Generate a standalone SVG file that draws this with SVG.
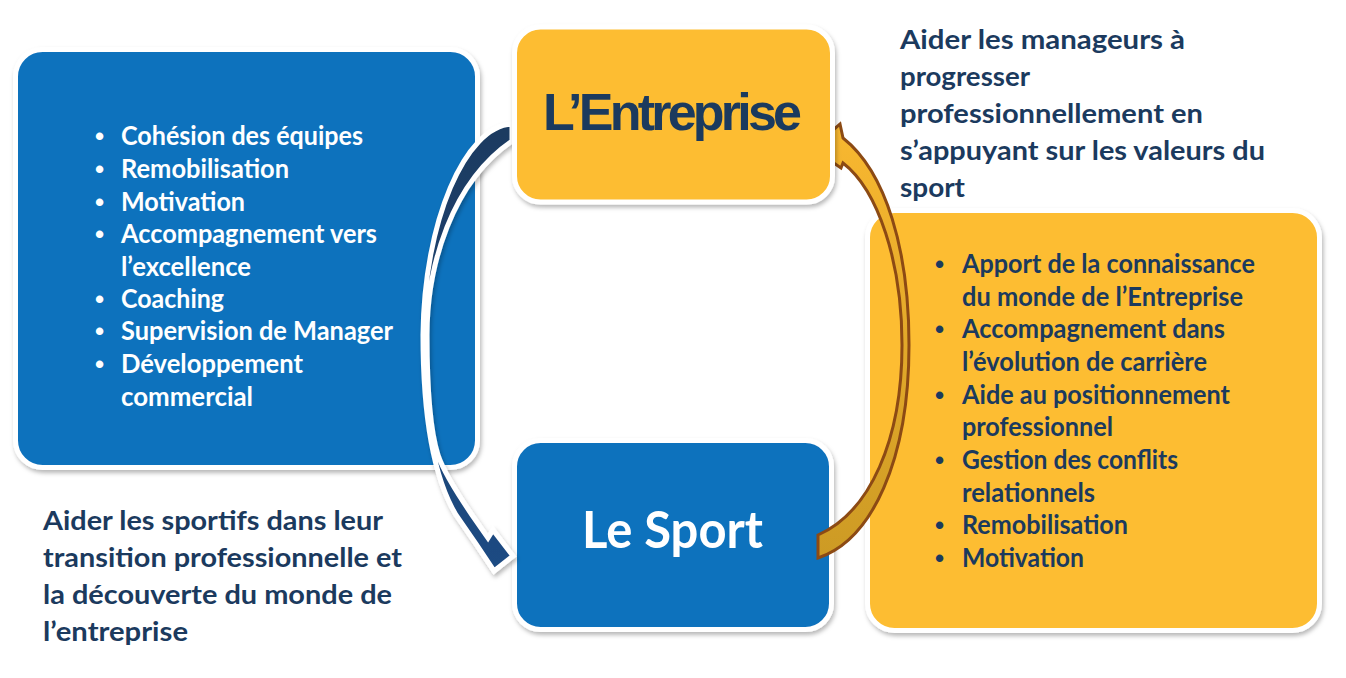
<svg xmlns="http://www.w3.org/2000/svg" width="1346" height="678" viewBox="0 0 1346 678">
<defs>
<filter id="sh" x="-10%" y="-10%" width="120%" height="125%">
<feDropShadow dx="1.5" dy="3" stdDeviation="2.2" flood-color="#000" flood-opacity="0.28"/>
</filter>
<linearGradient id="gBlue" x1="0" y1="120" x2="0" y2="570" gradientUnits="userSpaceOnUse">
<stop offset="0" stop-color="#1a3a60"/>
<stop offset="1" stop-color="#1f4b83"/>
</linearGradient>
<linearGradient id="gGold" x1="0" y1="120" x2="0" y2="565" gradientUnits="userSpaceOnUse">
<stop offset="0" stop-color="#f9b830"/>
<stop offset="1" stop-color="#cc9a24"/>
</linearGradient>
</defs>
<style>
.box{stroke:#ffffff;stroke-width:5;filter:url(#sh)}
.blue{fill:#1172bd}
.yellow{fill:#fdbd30}
.wt{font-family:Lato,"Open Sans",sans-serif;font-weight:700;font-size:26px;fill:#ffffff}
.nt{font-family:Lato,"Open Sans",sans-serif;font-weight:700;font-size:26px;fill:#1b3a5e}
.bul{font-family:"Liberation Sans",Arial,sans-serif;font-size:26px}
.lab{font-family:Lato,"Open Sans",sans-serif;font-weight:700;font-size:26px;fill:#1b3a5e}
</style>

<g id="node-activites">
<rect class="box blue" x="15.5" y="49.5" width="462" height="418" rx="27"/>
<g class="wt">
<text class="bul" x="95" y="145">•</text>
<text x="121" y="145" textLength="242" lengthAdjust="spacingAndGlyphs">Cohésion des équipes</text>
<text class="bul" x="95" y="178">•</text>
<text x="121" y="178" textLength="168" lengthAdjust="spacingAndGlyphs">Remobilisation</text>
<text class="bul" x="95" y="211">•</text>
<text x="121" y="211" textLength="124" lengthAdjust="spacingAndGlyphs">Motivation</text>
<text class="bul" x="95" y="243">•</text>
<text x="121" y="243" textLength="256" lengthAdjust="spacingAndGlyphs">Accompagnement vers</text>
<text x="121" y="276" textLength="130" lengthAdjust="spacingAndGlyphs">l’excellence</text>
<text class="bul" x="95" y="308">•</text>
<text x="121" y="308" textLength="103" lengthAdjust="spacingAndGlyphs">Coaching</text>
<text class="bul" x="95" y="340">•</text>
<text x="121" y="340" textLength="272" lengthAdjust="spacingAndGlyphs">Supervision de Manager</text>
<text class="bul" x="95" y="373">•</text>
<text x="121" y="373" textLength="182" lengthAdjust="spacingAndGlyphs">Développement</text>
<text x="121" y="406" textLength="132" lengthAdjust="spacingAndGlyphs">commercial</text>
</g>
</g>

<g id="node-apports">
<rect class="box yellow" x="867.5" y="210.5" width="452" height="420" rx="27"/>
<g class="nt">
<text class="bul" x="935" y="273">•</text>
<text x="962" y="273" textLength="293" lengthAdjust="spacingAndGlyphs">Apport de la connaissance</text>
<text x="962" y="306" textLength="281" lengthAdjust="spacingAndGlyphs">du monde de l’Entreprise</text>
<text class="bul" x="935" y="338">•</text>
<text x="962" y="338" textLength="263" lengthAdjust="spacingAndGlyphs">Accompagnement dans</text>
<text x="962" y="371" textLength="245" lengthAdjust="spacingAndGlyphs">l’évolution de carrière</text>
<text class="bul" x="935" y="404">•</text>
<text x="962" y="404" textLength="268" lengthAdjust="spacingAndGlyphs">Aide au positionnement</text>
<text x="962" y="436" textLength="151" lengthAdjust="spacingAndGlyphs">professionnel</text>
<text class="bul" x="935" y="469">•</text>
<text x="962" y="469" textLength="216" lengthAdjust="spacingAndGlyphs">Gestion des conflits</text>
<text x="962" y="502" textLength="133" lengthAdjust="spacingAndGlyphs">relationnels</text>
<text class="bul" x="935" y="534">•</text>
<text x="962" y="534" textLength="166" lengthAdjust="spacingAndGlyphs">Remobilisation</text>
<text class="bul" x="935" y="567">•</text>
<text x="962" y="567" textLength="122" lengthAdjust="spacingAndGlyphs">Motivation</text>
</g>
</g>

<g id="node-sport">
<rect class="box blue" x="514.5" y="440.5" width="317" height="189" rx="26"/>
<text x="582" y="548" textLength="181" lengthAdjust="spacingAndGlyphs" style="font-family:Lato,'Open Sans',sans-serif;font-weight:700;font-size:52px;fill:#ffffff">Le Sport</text>
</g>

<g id="connectors">
<path d="M 512,124 C 465,126 424,222 423,335 C 423,425 435,480 456,515 L 476,544 L 494,571 L 513,556 L 493,530 L 488,538 L 472,515 C 455,490 443,470 438,455 C 430,430 427,390 427,335 C 427,265 452,182 512,141 Z" fill="url(#gBlue)" stroke="#ffffff" stroke-width="5" stroke-linejoin="miter" stroke-miterlimit="3" filter="url(#sh)"/>
<path d="M 818,558 C 872,540 909,460 909,345 C 909,250 886,172 843,138 L 840,124 L 812,148 L 841,168 L 843,163 C 878,190 902,262 902,345 C 902,440 870,512 818,535 Z" fill="url(#gGold)" stroke="#8c4a14" stroke-width="3" stroke-linejoin="miter"/>
</g>

<g id="node-entreprise">
<rect class="box yellow" x="514.5" y="27" width="318" height="175" rx="26"/>
<text x="543" y="130" textLength="259" lengthAdjust="spacing" style="font-family:'Liberation Sans',Arial,sans-serif;font-weight:700;font-size:52px;fill:#1b3a5e">L’Entreprise</text>
</g>

<g id="label-entreprise" class="lab">
<text x="900" y="49" textLength="285" lengthAdjust="spacingAndGlyphs">Aider les manageurs à</text>
<text x="900" y="86" textLength="130" lengthAdjust="spacingAndGlyphs">progresser</text>
<text x="900" y="123" textLength="303" lengthAdjust="spacingAndGlyphs">professionnellement en</text>
<text x="900" y="160" textLength="365" lengthAdjust="spacingAndGlyphs">s’appuyant sur les valeurs du</text>
<text x="900" y="197" textLength="65" lengthAdjust="spacingAndGlyphs">sport</text>
</g>

<g id="label-sport" class="lab">
<text x="43" y="530" textLength="340" lengthAdjust="spacingAndGlyphs">Aider les sportifs dans leur</text>
<text x="43" y="567" textLength="359" lengthAdjust="spacingAndGlyphs">transition professionnelle et</text>
<text x="43" y="604" textLength="349" lengthAdjust="spacingAndGlyphs">la découverte du monde de</text>
<text x="43" y="641" textLength="145" lengthAdjust="spacingAndGlyphs">l’entreprise</text>
</g>
</svg>
